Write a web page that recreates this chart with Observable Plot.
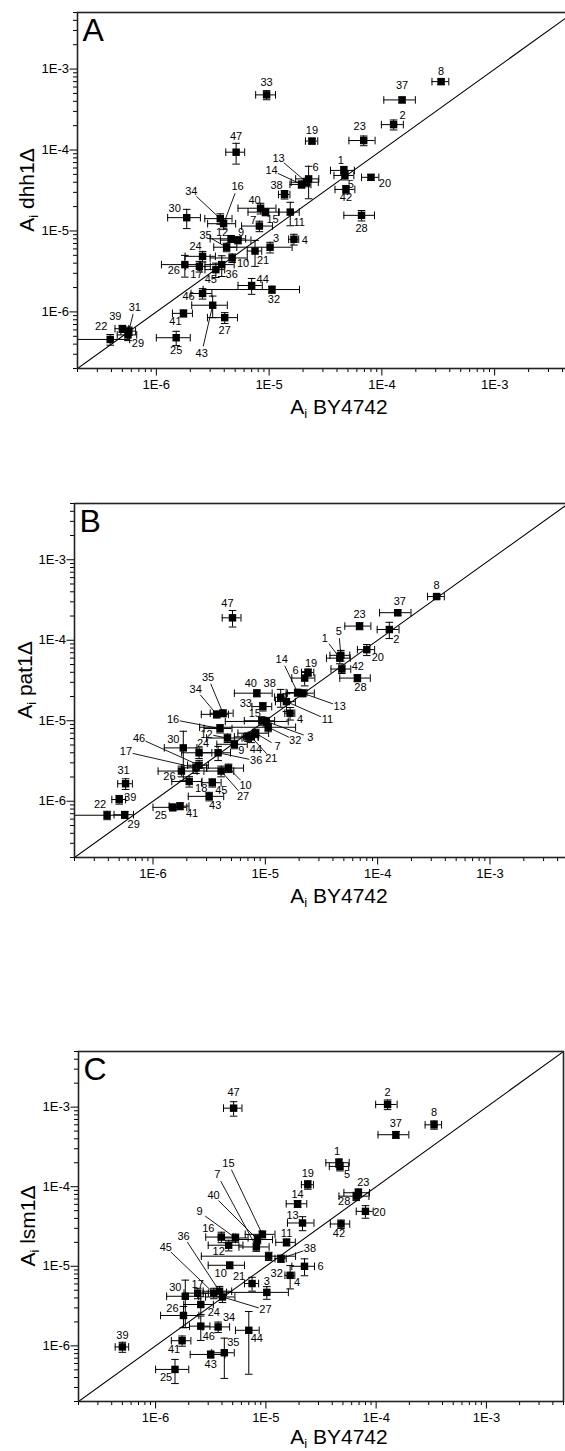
<!DOCTYPE html>
<html><head><meta charset="utf-8">
<script src="https://cdn.jsdelivr.net/npm/d3@7"></script>
<script src="https://cdn.jsdelivr.net/npm/@observablehq/plot@0.6"></script>
<style>
html,body{margin:0;padding:0;background:#fff;overflow:hidden;}
#page{position:relative;width:565px;height:1451px;overflow:hidden;background:#fff;}
.panel{position:absolute;left:0;width:620px;}
</style></head><body><div id="page"></div>
<script>
// ---- data ----
const ids = [1,2,3,4,5,6,7,8,9,10,11,12,13,14,15,16,17,18,19,20,21,22,23,24,25,26,27,28,29,30,31,32,33,34,35,36,37,38,39,40,41,42,43,44,45,46,47];
// A_i in BY4742 (wild type), shared by the three panels, and its SD
const xBY = [4.6e-5,1.27e-4,1.02e-5,1.66e-5,4.7e-5,2.24e-5,8.2e-6,3.35e-4,5.3e-6,4.7e-6,1.54e-5,4.6e-6,2.15e-5,1.94e-5,9.3e-6,3.95e-6,2.41e-6,2.1e-6,2.4e-5,8.0e-5,7.5e-6,3.9e-7,6.9e-5,2.57e-6,1.5e-6,1.79e-6,4.04e-6,6.6e-5,5.6e-7,1.86e-6,5.7e-7,1.06e-5,9.5e-6,3.69e-6,4.2e-6,3.8e-6,1.51e-4,1.37e-5,5.0e-7,8.4e-6,1.74e-6,4.8e-5,3.16e-6,7.0e-6,3.37e-6,2.57e-6,5.1e-6];
const xBYsd = [1.1e-5,2.8e-5,5.8e-6,1.7e-6,9.4e-6,5.2e-6,2.5e-6,5.7e-5,1.6e-6,1.7e-6,3.1e-6,1.6e-6,5.8e-6,4.1e-6,2.8e-6,1.1e-6,6.0e-7,6.3e-7,3.0e-6,1.4e-5,1.1e-6,1.9e-7,1.8e-5,7.7e-7,5.0e-7,6.8e-7,1.2e-6,2.0e-5,1.1e-7,6.0e-7,8.5e-8,8.0e-6,1.9e-6,1.0e-6,9.7e-7,1.1e-6,4.7e-5,1.6e-6,7.0e-8,3.1e-6,3.5e-7,9.6e-6,1.1e-6,1.7e-6,6.7e-7,5.4e-7,9.7e-7];
// A_i in dhh1Δ
const yDhh1 = [5.6e-5,2.06e-4,6.3e-6,7.9e-6,4.85e-5,4.4e-5,1.15e-5,7.0e-4,7.7e-6,4.64e-6,1.71e-5,8.0e-6,4.0e-5,3.76e-5,1.71e-5,1.23e-5,3.66e-6,null,1.29e-4,4.6e-5,5.65e-6,4.57e-7,1.31e-4,4.86e-6,4.8e-7,3.84e-6,8.5e-7,1.56e-5,5.2e-7,1.46e-5,5.8e-7,1.89e-6,4.8e-4,1.42e-5,6.3e-6,3.84e-6,4.16e-4,2.82e-5,6.2e-7,1.91e-5,9.6e-7,3.26e-5,1.21e-6,2.12e-6,3.33e-6,1.69e-6,9.4e-5];
const yDhh1sd = [6.7e-6,2.9e-5,9.5e-7,1.2e-6,5.8e-6,1.9e-5,1.7e-6,5.6e-5,7.7e-7,5.6e-7,5.5e-6,8.0e-7,4.8e-6,3.8e-6,1.7e-6,1.8e-6,5.5e-7,null,1.0e-5,3.7e-6,2.0e-6,6.9e-8,1.8e-5,7.3e-7,9.6e-8,1.15e-6,1.3e-7,2.3e-6,7.8e-8,3.9e-6,7.0e-8,1.9e-7,6.2e-5,2.1e-6,7.6e-7,1.1e-6,3.3e-5,3.4e-6,6.2e-8,2.9e-6,9.6e-8,3.9e-6,3.6e-7,4.7e-7,6.7e-7,2.5e-7,2.7e-5];
// A_i in pat1Δ
const yPat1 = [6.0e-5,1.36e-4,9.8e-6,1.24e-5,6.5e-5,3.39e-5,7.0e-6,3.49e-4,5.1e-6,2.58e-6,1.73e-5,6.1e-6,2.2e-5,2.24e-5,1.0e-5,8.0e-6,2.6e-6,1.76e-6,3.98e-5,7.65e-5,6.3e-6,6.7e-7,1.5e-4,4.0e-6,8.4e-7,2.37e-6,2.37e-6,3.39e-5,6.8e-7,4.6e-6,1.65e-6,8.3e-6,1.5e-5,1.2e-5,1.24e-5,4.0e-6,2.2e-4,1.96e-5,1.05e-6,2.2e-5,8.7e-7,4.39e-5,1.15e-6,6.3e-6,1.7e-6,2.8e-6,1.9e-4];
const yPat1sd = [9.0e-6,3.1e-5,1.2e-6,2.2e-6,9.8e-6,6.8e-6,8.4e-7,2.1e-5,6.1e-7,3.1e-7,4.3e-6,7.3e-7,2.2e-6,2.2e-6,1.2e-6,9.6e-7,3.9e-7,2.6e-7,4.0e-6,1.2e-5,9.5e-7,8.0e-8,1.5e-5,6.0e-7,8.4e-8,3.6e-7,3.6e-7,3.4e-6,6.8e-8,2.8e-6,2.5e-7,1.0e-6,1.8e-6,1.2e-6,1.2e-6,8.0e-7,1.8e-5,4.9e-6,1.3e-7,2.2e-6,8.7e-8,5.3e-6,1.4e-7,7.6e-7,2.0e-7,4.2e-7,4.4e-5];
// A_i in lsm1Δ
const yLsm1 = [2.0e-4,1.08e-3,4.7e-6,7.7e-6,1.8e-4,1.0e-5,1.75e-5,6.0e-4,2.27e-5,1.03e-5,2.0e-5,1.84e-5,3.5e-5,6.1e-5,2.52e-5,2.33e-5,4.6e-6,null,1.06e-4,4.9e-5,6.07e-6,null,8.4e-5,3.31e-6,5.06e-7,2.41e-6,4.12e-6,7.6e-5,null,4.2e-6,null,1.34e-5,null,1.73e-6,8.2e-7,4.86e-6,4.5e-4,1.25e-5,9.7e-7,2.17e-5,1.16e-6,3.4e-5,7.8e-7,1.57e-6,4.6e-6,1.77e-6,9.7e-4];
const yLsm1sd = [2.4e-5,1.5e-4,8.5e-7,2.5e-6,2.2e-5,2.4e-6,2.1e-6,7.2e-5,2.7e-6,1.0e-6,2.0e-6,2.8e-6,7.0e-6,6.1e-6,2.5e-6,3.5e-6,6.9e-7,null,1.3e-5,8.8e-6,1.2e-6,null,1.0e-5,8.3e-7,1.7e-7,7.2e-7,6.2e-7,9.1e-6,null,2.5e-6,null,1.6e-6,null,2.6e-7,4.3e-7,7.3e-7,4.5e-5,1.3e-6,1.4e-7,2.6e-6,1.7e-7,4.1e-6,7.8e-8,1.13e-6,6.9e-7,6.0e-7,2.0e-4];

const axisDomain = [2e-7, 5e-3];
const decadeTicks = [1e-6, 1e-5, 1e-4, 1e-3];
const decadeLabels = ["1E-6", "1E-5", "1E-4", "1E-3"];
const panelLetters = ["A", "B", "C"];
const mutantNames = ["dhh1", "pat1", "lsm1"];
const xTitle = "BY4742";

// label placement (annotation layout): [id, dx px, dy px, leader line]
const labelsA = [[1,-3,-10],[2,9,-9],[3,6,-9],[4,11,1],[5,6,9],[6,7,-11],[7,-6,-6],[8,0,-10],[9,3,-8],[10,11,6],[11,9,10],[12,-9,-6],[13,-28,-24,1],[14,-30,-14,1],[15,7,7],[16,14,-37,1],[17,-3,8],[19,0,-11],[20,14,6],[21,8,9],[22,-9,-13],[23,-4,-14],[24,-7,-10],[25,0,13],[26,-11,6],[27,0,13],[28,0,13],[29,10,9],[30,-12,-9],[31,6,-24,1],[32,2,10],[33,0,-12],[34,-29,-27,1],[35,-21,-12,1],[36,10,10],[37,0,-14],[38,-8,-9],[39,-7,-12],[40,-6,-8],[41,-8,8],[42,0,8],[43,-11,48,1],[44,11,-6],[45,-5,10],[46,-14,3],[47,0,-16]];
const labelsB = [[1,-15,-20,1],[2,7,10],[3,44,16,1],[4,10,6],[5,-2,-24,1],[6,-9,-8],[7,22,13,1],[8,0,-11],[9,7,6],[10,17,17,1],[11,41,18,1],[12,-21,-4,1],[13,37,13,1],[14,-16,-33,1],[15,-7,-7],[16,-47,-9,1],[17,-70,-16,1],[18,12,7],[19,3,-9],[20,11,8],[21,20,22,1],[22,-7,-11],[23,0,-12],[24,4,-9],[25,-12,8],[26,-12,5],[27,22,25,1],[28,3,9],[29,9,10],[30,-10,-8],[31,-2,-13],[32,27,13,1],[33,-17,-3],[34,-21,-25,1],[35,-15,-36,1],[36,38,8,1],[37,2,-11],[38,-11,-14],[39,11,-2],[40,-6,-10],[41,12,7],[42,16,-3],[43,6,9],[44,8,13],[45,9,8],[46,-60,-27,1],[47,-5,-14]];
const labelsC = [[1,-2,-11],[2,0,-12],[3,0,-11],[4,7,7],[5,7,8],[6,16,0],[7,-39,-72,1],[8,0,-12],[9,-36,-26,1],[10,-9,8],[11,0,-9],[12,-10,6],[13,-10,-8],[14,0,-9],[15,-34,-71,1],[16,-13,-9],[17,0,-9],[19,0,-11],[20,14,1],[21,-13,-7],[23,5,-10],[24,13,8],[25,-9,8],[26,-11,-7],[27,43,13,1],[28,-12,5],[30,-10,-9],[32,8,17],[34,11,-9],[35,9,-10],[36,-36,-55,1],[37,0,-11],[38,29,-10,1],[39,0,-11],[40,-44,-44,1],[41,-8,9],[42,-2,9],[43,0,10],[44,8,8],[45,-48,-46,1],[46,8,10],[47,0,-16]];

// ---- drawing ----
const capV = {draw(ctx, size){const r=Math.sqrt(size/Math.PI); ctx.moveTo(0,-r); ctx.lineTo(0,r);}};
const capH = {draw(ctx, size){const r=Math.sqrt(size/Math.PI); ctx.moveTo(-r,0); ctx.lineTo(r,0);}};

function minorTicks(dom){
  const t = [];
  for (let e = Math.floor(Math.log10(dom[0])); e <= Math.ceil(Math.log10(dom[1])); e++)
    for (let m = 2; m <= 9; m++) { const v = m * Math.pow(10, e); if (v >= dom[0]*0.999 && v <= dom[1]*1.001) t.push(v); }
  return t;
}
const minor = minorTicks(axisDomain);
const fmt = d => decadeLabels[decadeTicks.findIndex(t => Math.abs(t/d - 1) < 1e-6)];
const FONT = "'Liberation Sans', Arial, Helvetica, sans-serif";

function panel(cfg){
  const {top, width, height, mt, mb, ml, mr, idx, y, ysd, labels, yTitleX, xTitleOff} = cfg;
  const lo = axisDomain[0];
  const rows = [];
  ids.forEach((id, i) => {
    if (y[i] == null) return;
    rows.push({id, x: xBY[i], xsd: xBYsd[i], y: y[i], ysd: ysd[i],
      xlo: Math.max(xBY[i] - xBYsd[i], lo), xhi: xBY[i] + xBYsd[i],
      ylo: Math.max(y[i] - ysd[i], lo), yhi: y[i] + ysd[i],
      xloCap: xBY[i] - xBYsd[i] > lo, yloCap: y[i] - ysd[i] > lo});
  });
  const plotW = width - ml - mr, plotH = height - mt - mb;
  const span = Math.log10(axisDomain[1] / axisDomain[0]);
  const decX = plotW / span, decY = plotH / span;
  const capsX = rows.flatMap(r => (r.xloCap ? [{x: r.xlo, y: r.y}] : []).concat([{x: r.xhi, y: r.y}]));
  const capsY = rows.flatMap(r => (r.yloCap ? [{x: r.x, y: r.ylo}] : []).concat([{x: r.x, y: r.yhi}]));
  const lay = new Map(labels.map(l => [l[0], l]));
  const labelRows = rows.map(r => {
    const l = lay.get(r.id) || [r.id, 0, -11, 0];
    const dx = l[1], dy = l[2];
    return {text: String(r.id), x: r.x * Math.pow(10, dx/decX), y: r.y * Math.pow(10, -dy/decY), x0: r.x, y0: r.y, dx, dy, lead: !!l[3]};
  });
  const leaders = labelRows.filter(d => d.lead).map(d => {
    const len = Math.hypot(d.dx, d.dy), t = Math.max(0, (len - 7) / len);
    return {x1: d.x0, y1: d.y0, x2: d.x0 * Math.pow(10, d.dx*t/decX), y2: d.y0 * Math.pow(10, -d.dy*t/decY)};
  });

  const svg = Plot.plot({
    width, height, marginTop: mt, marginBottom: mb, marginLeft: ml, marginRight: mr,
    style: {fontFamily: FONT, background: "white", color: "black", maxWidth: "none"},
    x: {type: "log", domain: axisDomain},
    y: {type: "log", domain: axisDomain},
    marks: [
      Plot.axisX({ticks: minor, tickFormat: () => "", tickSize: 4, label: null, strokeWidth: 1}),
      Plot.axisX({ticks: decadeTicks, tickFormat: fmt, tickSize: 7.5, tickPadding: 4, fontSize: 13, label: null, strokeWidth: 1}),
      Plot.axisY({ticks: minor, tickFormat: () => "", tickSize: 4, label: null, strokeWidth: 1}),
      Plot.axisY({ticks: decadeTicks, tickFormat: fmt, tickSize: 7.5, tickPadding: 1, fontSize: 13, label: null, strokeWidth: 1}),
      Plot.line(axisDomain, {x: d => d, y: d => d, stroke: "black", strokeWidth: 1.1, clip: true}),
      Plot.link(leaders, {x1: "x1", y1: "y1", x2: "x2", y2: "y2", stroke: "black", strokeWidth: 0.9}),
      Plot.ruleY(rows, {y: "y", x1: "xlo", x2: "xhi", stroke: "black", strokeWidth: 1}),
      Plot.ruleX(rows, {x: "x", y1: "ylo", y2: "yhi", stroke: "black", strokeWidth: 1}),
      Plot.dot(capsX, {x: "x", y: "y", symbol: capV, r: 3.8, stroke: "black", fill: "none", strokeWidth: 1}),
      Plot.dot(capsY, {x: "x", y: "y", symbol: capH, r: 3.8, stroke: "black", fill: "none", strokeWidth: 1}),
      Plot.dot(rows, {x: "x", y: "y", symbol: "square", r: 4.2, fill: "black", stroke: "none"}),
      Plot.text(labelRows, {x: "x", y: "y", text: "text", fontSize: 11, fill: "black"}),
      Plot.text([panelLetters[idx]], {frameAnchor: "top-left", text: d => d, dx: 5, dy: 6, fontSize: 32, lineAnchor: "top", textAnchor: "start", fill: "black"}),
      Plot.frame({stroke: "#222", strokeWidth: 1.6})
    ]
  });

  const s = d3.select(svg);
  // y-axis title: A_i <mutant>Δ
  const yt = s.append("text")
    .attr("transform", `translate(${yTitleX},${mt + plotH/2}) rotate(-90)`)
    .attr("text-anchor", "middle").attr("font-size", 21).attr("fill", "black").style("font-family", FONT);
  yt.append("tspan").text("A");
  yt.append("tspan").attr("font-size", 13).attr("dy", 4).text("i");
  yt.append("tspan").attr("dy", -4).text(" " + mutantNames[idx] + "\u0394");
  // x-axis title: A_i BY4742
  const xt = s.append("text")
    .attr("x", 339).attr("y", mt + plotH + xTitleOff)
    .attr("text-anchor", "middle").attr("font-size", 21).attr("fill", "black").style("font-family", FONT);
  xt.append("tspan").text("A");
  xt.append("tspan").attr("font-size", 13).attr("dy", 4).text("i");
  xt.append("tspan").attr("dy", -4).text(" " + xTitle);

  const div = document.createElement("div");
  div.className = "panel";
  div.style.top = top + "px";
  div.appendChild(svg);
  document.getElementById("page").appendChild(div);
}

panel({top: 0, width: 575, height: 430, mt: 12, mb: 62, ml: 77, mr: 2, idx: 0, y: yDhh1, ysd: yDhh1sd, labels: labelsA, yTitleX: 34, xTitleOff: 46});
panel({top: 470, width: 570, height: 452, mt: 33, mb: 65, ml: 74, mr: 2, idx: 1, y: yPat1, ysd: yPat1sd, labels: labelsB, yTitleX: 32, xTitleOff: 46});
panel({top: 1000, width: 565, height: 451, mt: 51, mb: 50, ml: 78, mr: 2, idx: 2, y: yLsm1, ysd: yLsm1sd, labels: labelsC, yTitleX: 35, xTitleOff: 43});
</script></body></html>
